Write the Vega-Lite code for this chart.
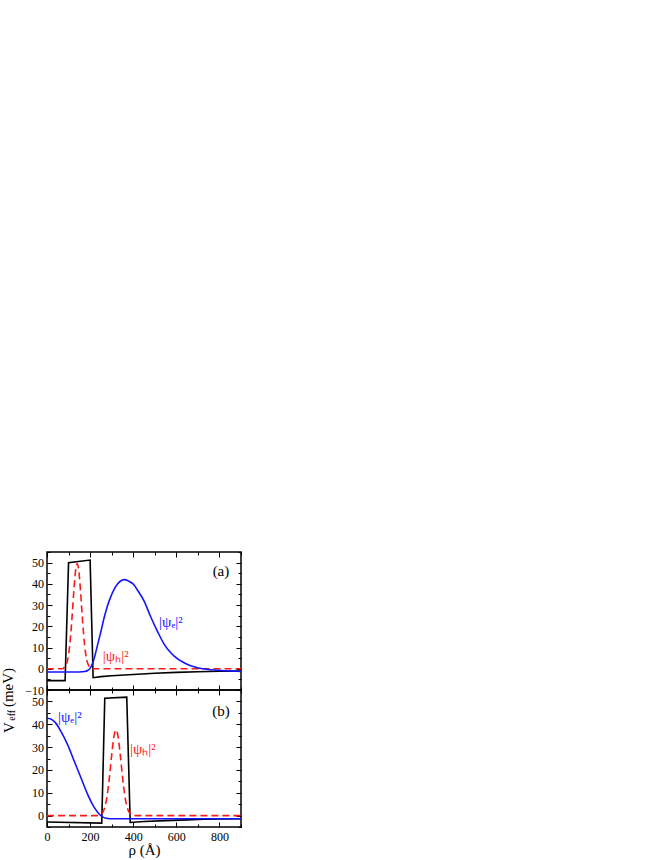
{
  "$schema": "https://vega.github.io/schema/vega-lite/v6.json",
  "padding": {"left": 0, "top": 550, "right": 5, "bottom": 0},
  "spacing": 0,
  "bounds": "flush",
  "config": {
    "font": "Liberation Serif",
    "view": {"stroke": "black", "strokeWidth": 1.5},
    "axis": {"domain": false, "grid": false, "tickColor": "black", "tickWidth": 1, "labelFont": "Liberation Serif", "labelFontSize": 12, "labelColor": "black", "titleFont": "Liberation Serif", "titleFontWeight": "normal", "titleColor": "black"},
    "text": {"font": "Liberation Serif"}
  },
  "datasets": {
    "a_V": [
      {"rho": 0, "v": -5.6}, {"rho": 84, "v": -5.6}, {"rho": 100, "v": 50}, {"rho": 200, "v": 51.2}, {"rho": 214, "v": -4.2},
      {"rho": 250, "v": -3.7}, {"rho": 300, "v": -3.3}, {"rho": 400, "v": -2.7}, {"rho": 500, "v": -2.1}, {"rho": 600, "v": -1.7},
      {"rho": 700, "v": -1.4}, {"rho": 800, "v": -1.2}, {"rho": 900, "v": -1.1}
    ],
    "a_h": [
      {"rho": 0, "v": 0}, {"rho": 70, "v": 0}, {"rho": 80, "v": 0.55}, {"rho": 90, "v": 2.2}, {"rho": 95, "v": 3.9}, {"rho": 100, "v": 6.7},
      {"rho": 105, "v": 10.7}, {"rho": 110, "v": 16.1}, {"rho": 115, "v": 22.7}, {"rho": 120, "v": 30}, {"rho": 125, "v": 37.4},
      {"rho": 130, "v": 43.7}, {"rho": 135, "v": 48}, {"rho": 140, "v": 49.5}, {"rho": 145, "v": 48}, {"rho": 150, "v": 43.7},
      {"rho": 155, "v": 37.4}, {"rho": 160, "v": 30}, {"rho": 165, "v": 22.7}, {"rho": 170, "v": 16.1}, {"rho": 175, "v": 10.7},
      {"rho": 180, "v": 6.7}, {"rho": 185, "v": 3.9}, {"rho": 190, "v": 2.2}, {"rho": 200, "v": 0.55}, {"rho": 210, "v": 0}, {"rho": 900, "v": 0}
    ],
    "a_e": [
      {"rho": 0, "v": -1.5}, {"rho": 150, "v": -1.5}, {"rho": 175, "v": -1.3}, {"rho": 190, "v": -0.7}, {"rho": 200, "v": 0.2},
      {"rho": 215, "v": 3.5}, {"rho": 234, "v": 11}, {"rho": 250, "v": 17.5}, {"rho": 265, "v": 24}, {"rho": 280, "v": 29.5},
      {"rho": 296, "v": 34}, {"rho": 312, "v": 37.5}, {"rho": 328, "v": 40}, {"rho": 345, "v": 41.6}, {"rho": 361, "v": 42},
      {"rho": 380, "v": 41.2}, {"rho": 404, "v": 39.5}, {"rho": 420, "v": 37}, {"rho": 450, "v": 32}, {"rho": 481, "v": 24.5},
      {"rho": 513, "v": 17.5}, {"rho": 544, "v": 11.5}, {"rho": 570, "v": 8}, {"rho": 590, "v": 6}, {"rho": 636, "v": 2.8},
      {"rho": 670, "v": 1.3}, {"rho": 698, "v": 0.5}, {"rho": 740, "v": -0.2}, {"rho": 776, "v": -0.6}, {"rho": 820, "v": -0.9},
      {"rho": 860, "v": -1.1}, {"rho": 900, "v": -1.3}
    ],
    "a_txt": [
      {"rho": 807, "v": 46, "s": "p", "t": "(a)"},
      {"rho": 575, "v": 22, "s": "e", "t": "|ψₑ|²"},
      {"rho": 319, "v": 6, "s": "h", "t": "|ψₕ|²"}
    ],
    "b_V": [
      {"rho": 0, "v": -2.8}, {"rho": 254, "v": -3.3}, {"rho": 268, "v": 51.4}, {"rho": 370, "v": 51.9}, {"rho": 386, "v": -3.0},
      {"rho": 450, "v": -2.6}, {"rho": 550, "v": -2.2}, {"rho": 650, "v": -1.9}, {"rho": 730, "v": -1.6}, {"rho": 800, "v": -1.5}, {"rho": 900, "v": -1.4}
    ],
    "b_h": [
      {"rho": 0, "v": 0}, {"rho": 230, "v": 0}, {"rho": 240, "v": 0.1}, {"rho": 250, "v": 0.5}, {"rho": 260, "v": 1.6}, {"rho": 270, "v": 4.3},
      {"rho": 280, "v": 9.4}, {"rho": 290, "v": 17.2}, {"rho": 300, "v": 26.5}, {"rho": 310, "v": 34.4}, {"rho": 320, "v": 37.5},
      {"rho": 330, "v": 34.4}, {"rho": 340, "v": 26.5}, {"rho": 350, "v": 17.2}, {"rho": 360, "v": 9.4}, {"rho": 370, "v": 4.3},
      {"rho": 380, "v": 1.6}, {"rho": 390, "v": 0.5}, {"rho": 400, "v": 0.1}, {"rho": 410, "v": 0}, {"rho": 900, "v": 0}
    ],
    "b_e": [
      {"rho": 0, "v": 42.6}, {"rho": 20, "v": 42.2}, {"rho": 40, "v": 40.6}, {"rho": 64, "v": 37}, {"rho": 95, "v": 31.2},
      {"rho": 126, "v": 23.9}, {"rho": 157, "v": 16.7}, {"rho": 188, "v": 9.4}, {"rho": 219, "v": 3.6}, {"rho": 235, "v": 1.5},
      {"rho": 250, "v": 0}, {"rho": 262, "v": -0.8}, {"rho": 275, "v": -1.2}, {"rho": 290, "v": -1.4}, {"rho": 900, "v": -1.4}
    ],
    "b_txt": [
      {"rho": 807, "v": 46, "s": "p", "t": "(b)"},
      {"rho": 106, "v": 43, "s": "e", "t": "|ψₑ|²"},
      {"rho": 445, "v": 29, "s": "h", "t": "|ψₕ|²"}
    ],
    "ytitle_big": [
      {"rho": -178, "v": 38.5, "t": "V"},
      {"rho": -180, "v": 56.1, "t": "(meV)"}
    ],
    "ytitle_sub": [
      {"rho": -161, "v": 43.9, "t": "eff"}
    ]
  },
  "vconcat": [
    {
      "width": 194, "height": 138,
      "resolve": {"axis": {"x": "independent", "y": "independent"}},
      "layer": [
        {
          "data": {"name": "a_V"},
          "mark": {"type": "line", "color": "black", "strokeWidth": 1.6},
          "encoding": {
            "x": {"field": "rho", "type": "quantitative", "scale": {"domain": [0, 900], "nice": false},
              "axis": {"orient": "bottom", "values": [0, 100, 200, 300, 400, 500, 600, 700, 800, 900], "labels": false, "title": null,
                "tickSize": {"condition": {"test": "datum.value % 200 === 0", "value": -5}, "value": -3}}},
            "y": {"field": "v", "type": "quantitative", "scale": {"domain": [-10, 55], "nice": false, "zero": false},
              "axis": {"orient": "left", "values": [-10, -5, 0, 5, 10, 15, 20, 25, 30, 35, 40, 45, 50, 55], "title": null,
                "labelExpr": "datum.value % 10 === 0 ? datum.label : ''", "labelPadding": 8.5,
                "tickSize": {"condition": {"test": "datum.value % 10 === 0", "value": -5}, "value": -3}}}
          }
        },
        {
          "data": {"name": "a_h"},
          "mark": {"type": "line", "color": "#ff1a1a", "strokeWidth": 1.6, "strokeDash": [7, 4], "interpolate": "monotone"},
          "encoding": {
            "x": {"field": "rho", "type": "quantitative",
              "axis": {"orient": "top", "values": [0, 100, 200, 300, 400, 500, 600, 700, 800, 900], "labels": false, "title": null,
                "tickSize": {"condition": {"test": "datum.value % 200 === 0", "value": -5}, "value": -3}}},
            "y": {"field": "v", "type": "quantitative",
              "axis": {"orient": "right", "values": [-10, -5, 0, 5, 10, 15, 20, 25, 30, 35, 40, 45, 50, 55], "labels": false, "title": null,
                "tickSize": {"condition": {"test": "datum.value % 10 === 0", "value": -5}, "value": -3}}}
          }
        },
        {
          "data": {"name": "a_e"},
          "mark": {"type": "line", "color": "#1414ff", "strokeWidth": 1.6, "interpolate": "monotone"},
          "encoding": {
            "x": {"field": "rho", "type": "quantitative", "axis": null},
            "y": {"field": "v", "type": "quantitative", "axis": null}
          }
        },
        {
          "data": {"name": "a_txt"},
          "mark": {"type": "text", "fontSize": 15, "align": "center", "baseline": "middle"},
          "encoding": {
            "x": {"field": "rho", "type": "quantitative", "axis": null},
            "y": {"field": "v", "type": "quantitative", "axis": null},
            "text": {"field": "t"},
            "color": {"field": "s", "type": "nominal", "scale": {"domain": ["p", "e", "h"], "range": ["black", "#1414ff", "#ff1a1a"]}, "legend": null}
          }
        }
      ]
    },
    {
      "width": 194, "height": 137,
      "resolve": {"axis": {"x": "independent", "y": "independent"}},
      "layer": [
        {
          "data": {"name": "b_V"},
          "mark": {"type": "line", "color": "black", "strokeWidth": 1.6},
          "encoding": {
            "x": {"field": "rho", "type": "quantitative", "scale": {"domain": [0, 900], "nice": false},
              "axis": {"orient": "bottom", "values": [0, 100, 200, 300, 400, 500, 600, 700, 800, 900], "title": "ρ (Å)", "titleFontSize": 15, "titlePadding": 0,
                "labelExpr": "datum.value % 200 === 0 ? datum.label : ''", "labelPadding": 9, "labelFlush": false,
                "tickSize": {"condition": {"test": "datum.value % 200 === 0", "value": -5}, "value": -3}}},
            "y": {"field": "v", "type": "quantitative", "scale": {"domain": [-5, 55], "nice": false, "zero": false},
              "axis": {"orient": "left", "values": [-5, 0, 5, 10, 15, 20, 25, 30, 35, 40, 45, 50, 55], "title": null,
                "labelExpr": "datum.value % 10 === 0 ? datum.label : ''", "labelPadding": 8.5,
                "tickSize": {"condition": {"test": "datum.value % 10 === 0", "value": -5}, "value": -3}}}
          }
        },
        {
          "data": {"name": "b_h"},
          "mark": {"type": "line", "color": "#ff1a1a", "strokeWidth": 1.6, "strokeDash": [7, 4], "interpolate": "monotone"},
          "encoding": {
            "x": {"field": "rho", "type": "quantitative",
              "axis": {"orient": "top", "values": [0, 100, 200, 300, 400, 500, 600, 700, 800, 900], "labels": false, "title": null,
                "tickSize": {"condition": {"test": "datum.value % 200 === 0", "value": -5}, "value": -3}}},
            "y": {"field": "v", "type": "quantitative",
              "axis": {"orient": "right", "values": [-5, 0, 5, 10, 15, 20, 25, 30, 35, 40, 45, 50, 55], "labels": false, "title": null,
                "tickSize": {"condition": {"test": "datum.value % 10 === 0", "value": -5}, "value": -3}}}
          }
        },
        {
          "data": {"name": "b_e"},
          "mark": {"type": "line", "color": "#1414ff", "strokeWidth": 1.6, "interpolate": "monotone"},
          "encoding": {
            "x": {"field": "rho", "type": "quantitative", "axis": null},
            "y": {"field": "v", "type": "quantitative", "axis": null}
          }
        },
        {
          "data": {"name": "b_txt"},
          "mark": {"type": "text", "fontSize": 15, "align": "center", "baseline": "middle"},
          "encoding": {
            "x": {"field": "rho", "type": "quantitative", "axis": null},
            "y": {"field": "v", "type": "quantitative", "axis": null},
            "text": {"field": "t"},
            "color": {"field": "s", "type": "nominal", "scale": {"domain": ["p", "e", "h"], "range": ["black", "#1414ff", "#ff1a1a"]}, "legend": null}
          }
        },
        {
          "data": {"name": "ytitle_big"},
          "mark": {"type": "text", "fontSize": 15, "angle": 270, "align": "center", "baseline": "middle", "color": "black"},
          "encoding": {
            "x": {"field": "rho", "type": "quantitative", "axis": null},
            "y": {"field": "v", "type": "quantitative", "axis": null},
            "text": {"field": "t"}
          }
        },
        {
          "data": {"name": "ytitle_sub"},
          "mark": {"type": "text", "fontSize": 10, "angle": 270, "align": "center", "baseline": "middle", "color": "black"},
          "encoding": {
            "x": {"field": "rho", "type": "quantitative", "axis": null},
            "y": {"field": "v", "type": "quantitative", "axis": null},
            "text": {"field": "t"}
          }
        }
      ]
    }
  ]
}
